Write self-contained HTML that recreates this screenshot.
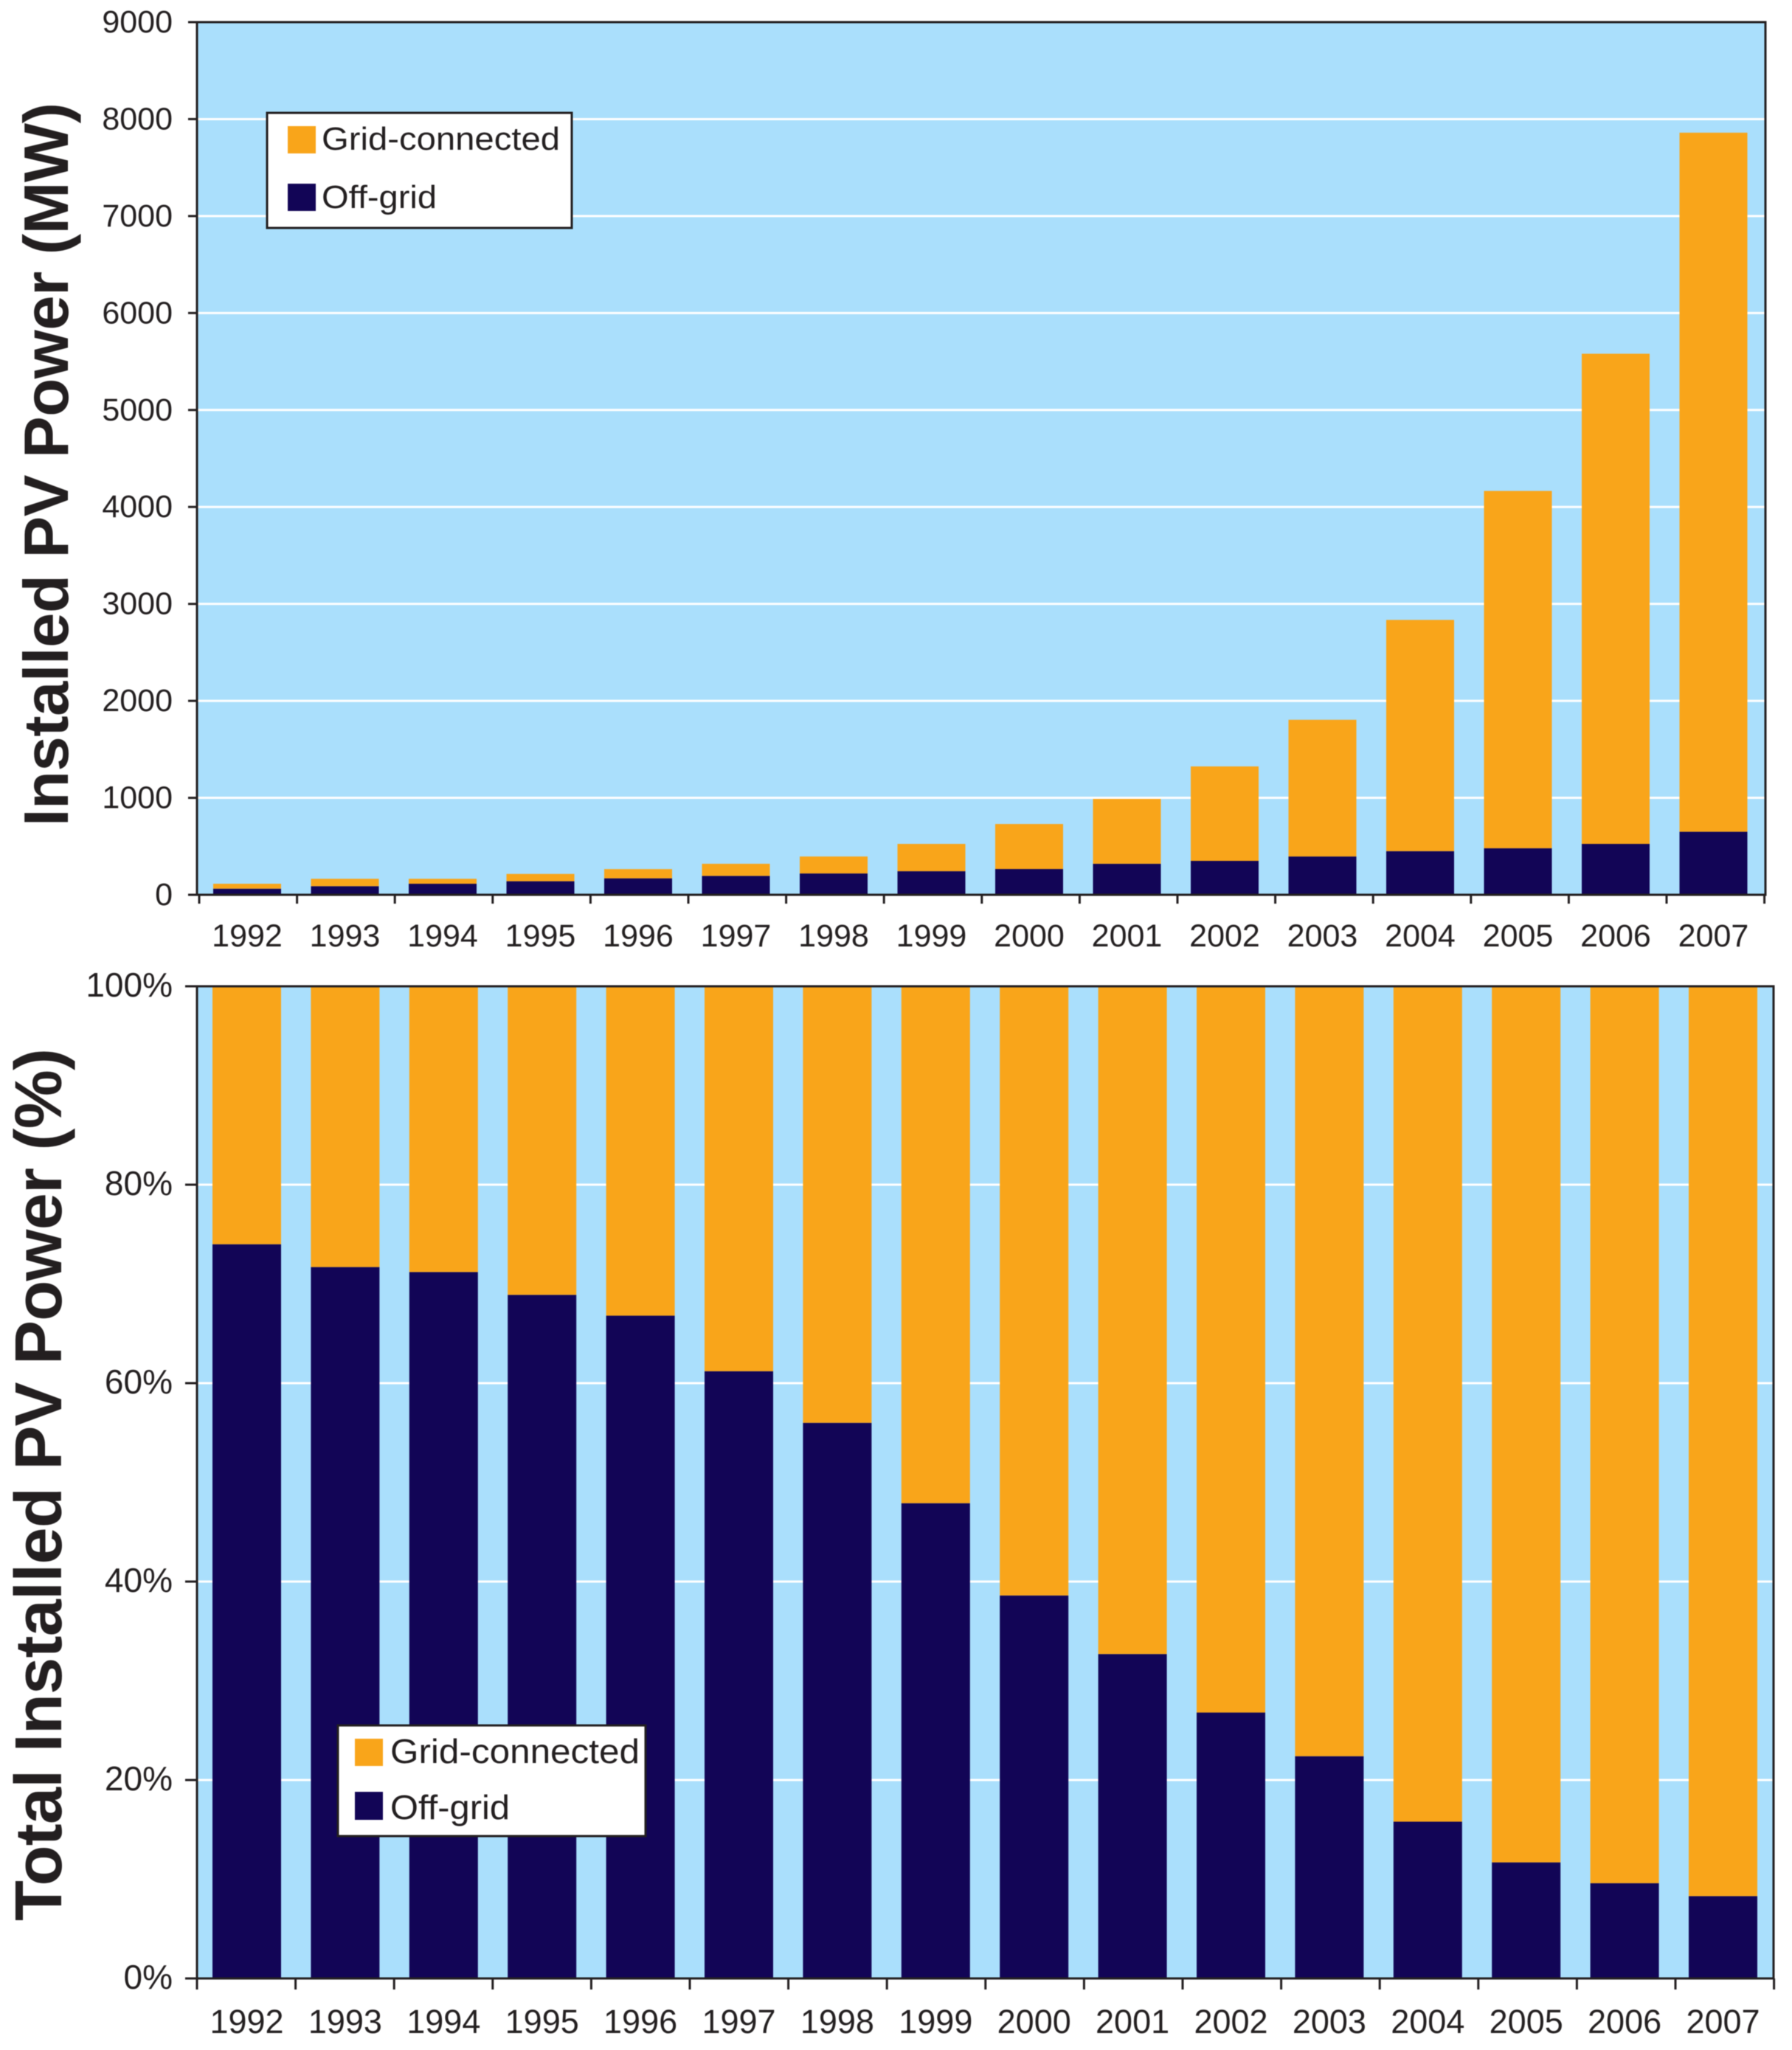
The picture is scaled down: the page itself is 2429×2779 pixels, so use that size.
<!DOCTYPE html>
<html>
<head>
<meta charset="utf-8">
<title>Installed PV Power 1992-2007</title>
<style>
html,body{margin:0;padding:0;background:#fff;}
svg{display:block;font-family:"Liberation Sans",Arial,sans-serif;filter:blur(0.6px);}
text{fill:#231f20;}
</style>
</head>
<body>
<svg id="chart" xmlns="http://www.w3.org/2000/svg" width="2429" height="2779" viewBox="0 0 2429 2779">
<rect x="0" y="0" width="2429" height="2779" fill="#ffffff"/>
<g id="top-chart"></g>
<g id="bottom-chart"></g>
<text transform="translate(92,1120) rotate(-90)" font-size="85" font-weight="bold" textLength="981" lengthAdjust="spacing">Installed PV Power (MW)</text>
<text transform="translate(83,2604) rotate(-90)" font-size="90" font-weight="bold" textLength="1183" lengthAdjust="spacing">Total Installed PV Power (%)</text>
<g>
<rect x="362" y="153" width="413" height="156" fill="#fff" stroke="#231f20" stroke-width="3"/>
<rect x="390" y="171" width="38" height="37" fill="#f9a51a"/>
<text x="436" y="203" font-size="44" textLength="323" lengthAdjust="spacingAndGlyphs">Grid-connected</text>
<rect x="390" y="249" width="38" height="37" fill="#120556"/>
<text x="436" y="282" font-size="44" textLength="156" lengthAdjust="spacingAndGlyphs">Off-grid</text>
</g>
<g>
<rect x="458" y="2339" width="417" height="150" fill="#fff" stroke="#231f20" stroke-width="3"/>
<rect x="481" y="2357" width="38" height="37" fill="#f9a51a"/>
<text x="529" y="2390" font-size="46" textLength="338" lengthAdjust="spacingAndGlyphs">Grid-connected</text>
<rect x="481" y="2429" width="38" height="38" fill="#120556"/>
<text x="529" y="2466" font-size="46" textLength="162" lengthAdjust="spacingAndGlyphs">Off-grid</text>
</g>
</svg>
<script>
var years = ['1992','1993','1994','1995','1996','1997','1998','1999','2000','2001','2002','2003','2004','2005','2006','2007'];
var offGridMW = [63,89,114,140,170,195,220,243,266,320,350,395,450,480,525,650];
var gridConnectedMW = [51,76,51,75,95,125,175,282,464,669,974,1410,2385,3685,5055,7210];
var topTicks = [0,1000,2000,3000,4000,5000,6000,7000,8000,9000];
var offGridPct = [74.0,71.7,71.2,68.9,66.8,61.2,56.0,47.9,38.6,32.7,26.8,22.4,15.8,11.7,9.6,8.3];
var gridConnectedPct = [26.0,28.3,28.8,31.1,33.2,38.8,44.0,52.1,61.4,67.3,73.2,77.6,84.2,88.3,90.4,91.7];
var bottomTicks = [0,20,40,60,80,100];

var NS = 'http://www.w3.org/2000/svg';
var ORANGE = '#f9a51a', NAVY = '#120556', SKY = '#aadffc', INK = '#231f20';

function make(parent, tag, attrs, txt){
  var n = document.createElementNS(NS, tag);
  for (var k in attrs) n.setAttribute(k, attrs[k]);
  if (txt !== undefined) n.textContent = txt;
  parent.appendChild(n);
  return n;
}

function drawChart(root, o){
  function y(v){ return o.y0 - (v - o.vMin) / (o.vMax - o.vMin) * (o.y0 - o.y1); }
  function barX(i){ return o.barStart + i * o.barStep; }
  function tickX(i){ return o.tickStart + i * o.tickStep; }

  var bg = make(root, 'rect', {x:o.left, y:o.y1, width:o.right-o.left, height:o.y0-o.y1, fill:SKY});
  
  

  o.ticks.forEach(function(t){
    if (t !== o.ticks[0] && t !== o.ticks[o.ticks.length-1]) {
      var g = make(root, 'line', {x1:o.left, x2:o.right, y1:y(t), y2:y(t), stroke:'#ffffff', 'stroke-width':3});
      
      
    }
    var m = make(root, 'line', {x1:o.yTickLeft, x2:o.left, y1:y(t), y2:y(t), stroke:INK, 'stroke-width':3});
    
    
    var l = make(root, 'text', {x:o.labelRight, y:y(t)+o.yLabelDy, 'text-anchor':'end', 'font-size':o.yFont}, t + o.suffix);
    
    
  });

  o.years.forEach(function(yr,i){
    var off = make(root, 'rect', {x:barX(i), y:y(o.lower[i]), width:o.barW, height:y(0)-y(o.lower[i]), fill:NAVY});
    
    
    var top = o.lower[i] + o.upper[i];
    var grid = make(root, 'rect', {x:barX(i), y:y(top), width:o.barW, height:y(o.lower[i])-y(top), fill:ORANGE});
    
    
    var l = make(root, 'text', {x:barX(i)+o.barW/2, y:o.xLabelY, 'text-anchor':'middle', 'font-size':o.xFont}, yr);
    
    
  });

  for (var i = 0; i <= o.years.length; i++){
    var t = make(root, 'line', {x1:tickX(i), x2:tickX(i), y1:o.y0, y2:o.y0+o.xTickLen, stroke:INK, 'stroke-width':3});
    
    
  }

  var frame = make(root, 'path', {d:'M'+o.left+' '+o.y0+' V'+o.y1+' H'+o.right+' V'+o.y0+' Z', fill:'none', stroke:INK, 'stroke-width':3});
  
  
}

drawChart(document.getElementById('top-chart'), {
  prefix:'top', years:years, lower:offGridMW, upper:gridConnectedMW, ticks:topTicks, suffix:'',
  vMin:0, vMax:9000, y0:1213, y1:30, left:267, right:2393,
  barStart:289, barStep:132.5, barW:92, tickStart:270, tickStep:132.6, xTickLen:12,
  yTickLeft:255, labelRight:234, yLabelDy:14, yFont:43, xFont:43, xLabelY:1283
});
drawChart(document.getElementById('bottom-chart'), {
  prefix:'bottom', years:years, lower:offGridPct, upper:gridConnectedPct, ticks:bottomTicks, suffix:'%',
  vMin:0, vMax:100, y0:2682, y1:1337, left:267, right:2404,
  barStart:288, barStep:133.4, barW:93, tickStart:267, tickStep:133.6, xTickLen:15,
  yTickLeft:251, labelRight:234, yLabelDy:14, yFont:46, xFont:45, xLabelY:2756
});
</script>
</body>
</html>
